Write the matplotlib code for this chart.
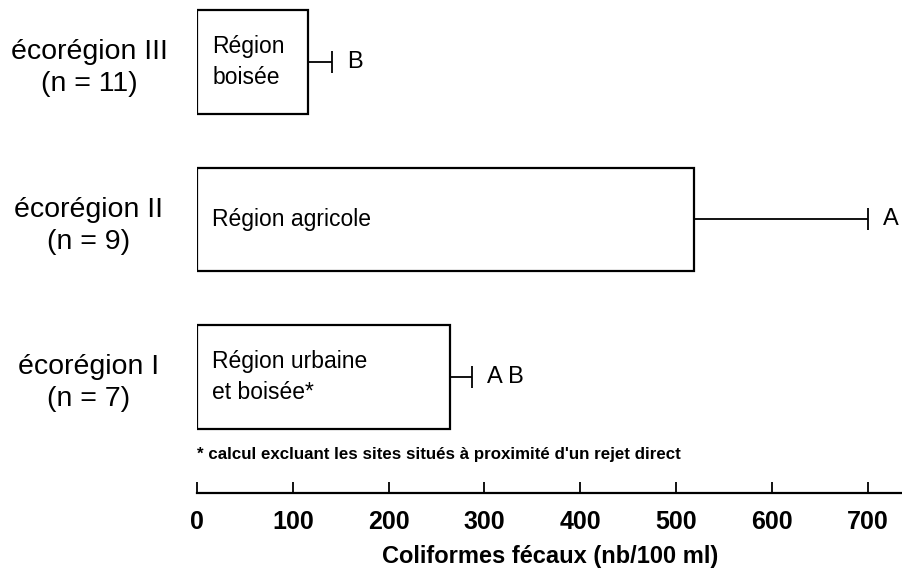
import matplotlib
matplotlib.use("Agg")
import matplotlib.pyplot as plt
from matplotlib.transforms import blended_transform_factory

plt.rcParams['font.family'] = ['Liberation Sans', 'DejaVu Sans']

# Data (bottom to top)
ecoregions = ["écorégion I\n(n = 7)", "écorégion II\n(n = 9)", "écorégion III\n(n = 11)"]
bar_labels = ["Région urbaine\net boisée*", "Région agricole", "Région\nboisée"]
means = [264, 519, 116]
errors = [23, 181, 25]
letters = ["A B", "A", "B"]
xticks = [0, 100, 200, 300, 400, 500, 600, 700]
xlabel = "Coliformes fécaux (nb/100 ml)"
footnote = "* calcul excluant les sites situés à proximité d'un rejet direct"

W, H = 903, 572
fig = plt.figure(figsize=(W / 100, H / 100), dpi=100)
ax = fig.add_axes([197 / W, (H - 493) / H, (903 - 197) / W, 493 / H])

ypos = list(range(len(means)))
ax.barh(ypos, means, height=0.655, color="white", edgecolor="black", linewidth=1.6, zorder=2)
ax.errorbar(means, ypos, xerr=[[0] * len(errors), errors], fmt="none", ecolor="black",
            elinewidth=1.3, capsize=8, capthick=1.3, zorder=1)

ax.set_xlim(0, 737)
ax.set_ylim(-0.737, 2.394)

for y, m, e, lt, bl in zip(ypos, means, errors, letters, bar_labels):
    ax.annotate(lt, xy=(m + e, y), xytext=(11, 0), textcoords="offset points",
                ha="left", va="center", fontsize=17)
    ax.annotate(bl, xy=(0, y), xytext=(11, 0), textcoords="offset points",
                ha="left", va="center", fontsize=16.5, linespacing=1.45)

tr = blended_transform_factory(fig.transFigure, ax.transData)
for y, lab in zip(ypos, ecoregions):
    fig.text(89 / W, y - 0.04, lab, transform=tr, ha="center", va="center",
             fontsize=20.5, linespacing=1.3, multialignment="center")

ax.text(0.0, -0.495, footnote, transform=blended_transform_factory(ax.transData, ax.transData),
        ha="left", va="center", fontsize=12.2, fontweight="bold")

for s in ["top", "right", "left"]:
    ax.spines[s].set_visible(False)
ax.spines["bottom"].set_linewidth(1.6)
ax.set_yticks([])
ax.set_xticks(xticks)
ax.set_xticklabels([str(t) for t in xticks], fontsize=18, fontweight="bold")
ax.tick_params(axis="x", direction="in", length=8, width=1.3, pad=12)
ax.set_xlabel(xlabel, fontsize=17, fontweight="bold")
ax.xaxis.set_label_coords(0.5, -0.105)
ax.patch.set_alpha(0)

fig.savefig("out.png", dpi=100)
